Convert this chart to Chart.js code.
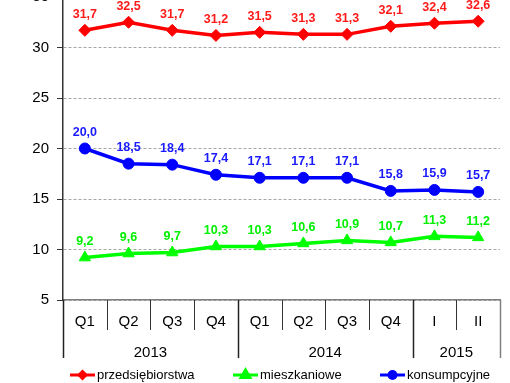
<!DOCTYPE html>
<html>
<head>
<meta charset="utf-8">
<script src="https://cdn.jsdelivr.net/npm/chart.js@4.4.0/dist/chart.umd.min.js"></script>
<style>
  html, body { margin: 0; padding: 0; background: #fff; overflow: hidden; }
  #wrap { position: relative; width: 510px; height: 383px; overflow: hidden; }
  /* canvas sits a bit higher so the top of the value axis runs off the page */
  #chart { position: absolute; left: 0; top: -20px; }
</style>
</head>
<body>
<div id="wrap"><canvas id="chart" width="510" height="403"></canvas></div>
<script>
/* ── Data ── */
const quarters   = ['Q1', 'Q2', 'Q3', 'Q4', 'Q1', 'Q2', 'Q3', 'Q4', 'I', 'II'];
const yearLabels = ['2013', '2014', '2015'];
const yearSpans  = [4, 4, 2];

const przedsiebiorstwa = [31.7, 32.5, 31.7, 31.2, 31.5, 31.3, 31.3, 32.1, 32.4, 32.6];
const mieszkaniowe     = [9.2, 9.6, 9.7, 10.3, 10.3, 10.6, 10.9, 10.7, 11.3, 11.2];
const konsumpcyjne     = [20.0, 18.5, 18.4, 17.4, 17.1, 17.1, 17.1, 15.8, 15.9, 15.7];

const yTicks = [5, 10, 15, 20, 25, 30, 35];

const FONT = 'Liberation Sans, Arial, sans-serif';
const fmt  = v => v.toFixed(1).replace('.', ',');

/* ── Value labels above each point ── */
const valueLabels = {
  id: 'valueLabels',
  afterDatasetsDraw(chart) {
    const { ctx } = chart;
    ctx.save();
    ctx.font = `bold 12.5px ${FONT}`;
    ctx.textAlign = 'center';
    ctx.textBaseline = 'middle';
    chart.data.datasets.forEach((ds, i) => {
      ctx.fillStyle = ds.labelColor;
      chart.getDatasetMeta(i).data.forEach((pt, j) => {
        ctx.fillText(fmt(ds.data[j]), pt.x, pt.y - 16);
      });
    });
    ctx.restore();
  },
};

/* ── Two-level category axis: separators + year row ── */
const yearAxis = {
  id: 'yearAxis',
  afterDraw(chart) {
    const { ctx, chartArea } = chart;
    const step = (chartArea.right - chartArea.left) / quarters.length;
    const edge = i => chartArea.left + i * step;
    const groupEdges = [0];
    yearSpans.reduce((acc, n) => { groupEdges.push(acc + n); return acc + n; }, 0);

    ctx.save();
    // inner quarter separators
    ctx.strokeStyle = '#333';
    ctx.lineWidth = 1;
    for (let i = 1; i < quarters.length; i++) {
      if (groupEdges.includes(i)) continue;
      const px = Math.round(edge(i)) + 0.5;
      ctx.beginPath();
      ctx.moveTo(px, chartArea.bottom);
      ctx.lineTo(px, chartArea.bottom + 30);
      ctx.stroke();
    }
    // year group separators
    ctx.lineWidth = 1.5;
    groupEdges.forEach((g, k) => {
      const px = Math.round(edge(g)) + 0.5;
      ctx.strokeStyle = k === groupEdges.length - 1 ? '#808080' : '#222';
      ctx.beginPath();
      ctx.moveTo(px, chartArea.bottom);
      ctx.lineTo(px, chartArea.bottom + 58);
      ctx.stroke();
    });
    // year labels
    ctx.fillStyle = '#000';
    ctx.font = `15px ${FONT}`;
    ctx.textAlign = 'center';
    ctx.textBaseline = 'middle';
    yearLabels.forEach((lab, k) => {
      const cx = (edge(groupEdges[k]) + edge(groupEdges[k + 1])) / 2;
      ctx.fillText(lab, cx, chartArea.bottom + 53);
    });
    ctx.restore();
  },
};

/* ── Legend: short line with marker, then the name ── */
const lineLegend = {
  id: 'lineLegend',
  afterDraw(chart) {
    const { ctx } = chart;
    const y = 395;
    const starts = [70, 233, 380];
    ctx.save();
    ctx.font = `13px ${FONT}`;
    ctx.textBaseline = 'middle';
    chart.data.datasets.forEach((ds, i) => {
      const x0 = starts[i], x1 = x0 + 25, cx = (x0 + x1) / 2;
      ctx.strokeStyle = ds.borderColor;
      ctx.fillStyle = ds.borderColor;
      ctx.lineWidth = 3;
      ctx.beginPath();
      ctx.moveTo(x0, y);
      ctx.lineTo(x1, y);
      ctx.stroke();
      Chart.helpers.drawPoint(ctx, {
        pointStyle: ds.pointStyle, radius: ds.pointStyle === 'triangle' ? 5 : 3.5,
        borderWidth: 1, rotation: 0,
      }, cx, y);
      ctx.fillStyle = '#000';
      ctx.fillText(ds.label, x1 + 2, y);
    });
    ctx.restore();
  },
};

new Chart(document.getElementById('chart'), {
  type: 'line',
  data: {
    labels: quarters,
    datasets: [
      {
        label: 'przedsiębiorstwa',
        data: przedsiebiorstwa,
        borderColor: '#ff0000',
        backgroundColor: '#ff0000',
        labelColor: '#ff1a1a',
        pointStyle: 'rectRot',
        pointRadius: 6,
      },
      {
        label: 'mieszkaniowe',
        data: mieszkaniowe,
        borderColor: '#00ff00',
        backgroundColor: '#00ff00',
        labelColor: '#00f000',
        pointStyle: 'triangle',
        pointRadius: 6.5,
      },
      {
        label: 'konsumpcyjne',
        data: konsumpcyjne,
        borderColor: '#0000ff',
        backgroundColor: '#0000ff',
        labelColor: '#1a1aff',
        pointStyle: 'circle',
        pointRadius: 5.5,
      },
    ],
  },
  options: {
    responsive: false,
    animation: false,
    devicePixelRatio: 1,
    layout: { padding: { top: 16, right: 10, bottom: 28, left: 0 } },
    elements: {
      line: { borderWidth: 3.5, tension: 0 },
      point: { borderWidth: 1, hoverRadius: 6 },
    },
    plugins: {
      legend: { display: false },
      tooltip: { enabled: false },
    },
    scales: {
      x: {
        offset: true,
        grid: { display: false },
        border: { display: true, color: '#808080', width: 1.5 },
        ticks: { color: '#000', font: { family: FONT, size: 15 }, padding: 5, maxRotation: 0 },
        afterFit: s => { s.height = 55; },
      },
      y: {
        min: 5,
        max: 35,
        afterBuildTicks: s => { s.ticks = yTicks.map(v => ({ value: v })); },
        grid: {
          color: '#a6a6a6',
          lineWidth: 1,
          tickLength: 6,
          tickColor: '#333',
          tickBorderDash: [],
        },
        border: { display: true, color: '#333', width: 1.5, dash: [3, 2] },
        ticks: { color: '#000', font: { family: FONT, size: 15 }, padding: 8 },
        afterFit: s => { s.width = 63; },
      },
    },
  },
  plugins: [valueLabels, yearAxis, lineLegend],
});
</script>
</body>
</html>
